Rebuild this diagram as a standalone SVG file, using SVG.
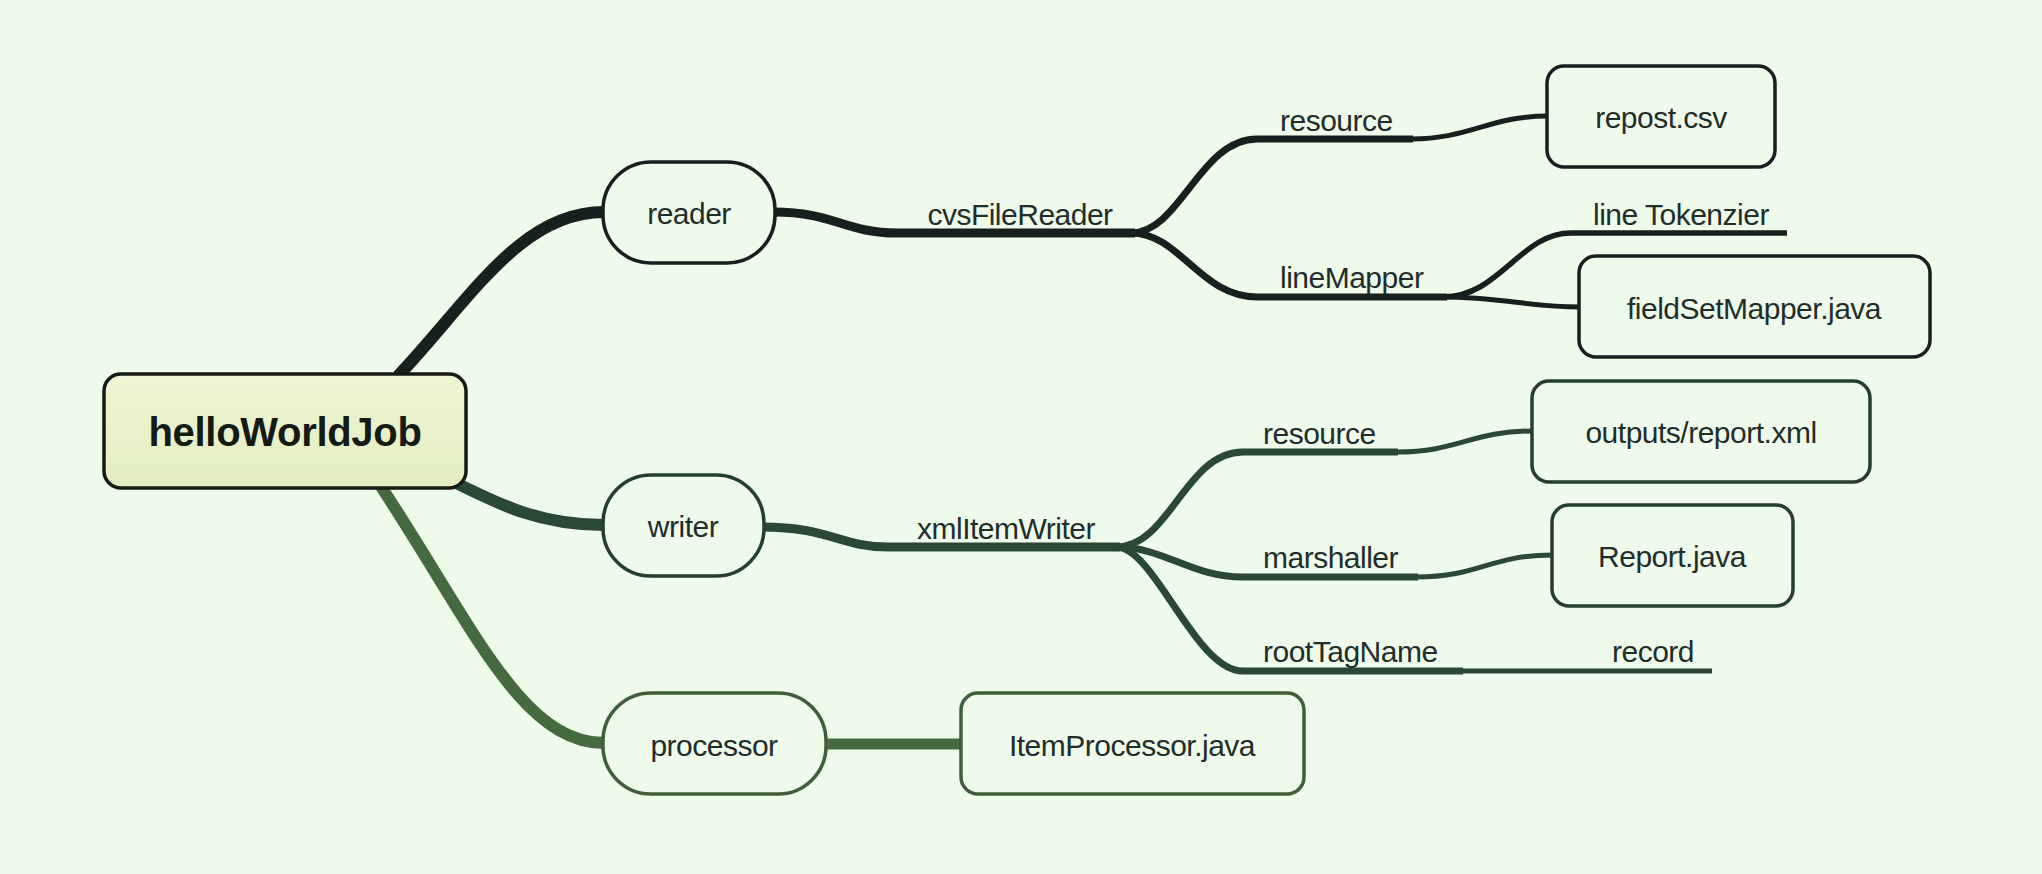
<svg xmlns="http://www.w3.org/2000/svg" width="2042" height="874" viewBox="0 0 2042 874">
<defs>
<linearGradient id="rootFill" x1="0" y1="0" x2="0" y2="1">
<stop offset="0" stop-color="#eef5d4"/>
<stop offset="1" stop-color="#e3edc0"/>
</linearGradient>
<style>
.t{font-family:"Liberation Sans",Arial,Helvetica,sans-serif;font-size:30px;fill:#1f2e2a;letter-spacing:-0.5px}
.tc{text-anchor:middle}
.root{font-family:"Liberation Sans",Arial,Helvetica,sans-serif;font-size:40px;font-weight:bold;fill:#141a14;text-anchor:middle;letter-spacing:-0.3px}
.c{fill:none;stroke-linecap:butt;stroke-linejoin:round}
.r{stroke:#17201c}
.w{stroke:#2b4736}
.p{stroke:#456a40}
.nb{fill:#eefaea;stroke-width:3.5}
.nr{stroke:#17201c}
.nw{stroke:#253f2e}
.np{stroke:#3e5f3a}
</style>
</defs>
<rect x="0" y="0" width="2042" height="874" fill="#eefaea"/>

<g id="connectors">
<!-- root level -->
<path class="c r" stroke-width="12" d="M 398 376 C 470 300, 520 212, 604 212"/>
<path class="c w" stroke-width="12" d="M 450 480 C 500 505, 540 525, 604 525"/>
<path class="c p" stroke-width="12" d="M 378 482 C 470 620, 520 743, 604 743"/>
<!-- reader branch -->
<path class="c r" stroke-width="9" d="M 773 212 C 835 212, 845 233, 897 233 L 1135 233"/>
<path class="c r" stroke-width="7" d="M 1131 233 C 1180 233, 1200 139, 1257 139 L 1413 139"/>
<path class="c r" stroke-width="7" d="M 1131 233 C 1180 233, 1200 297, 1257 297 L 1447 297"/>
<path class="c r" stroke-width="5" d="M 1411 139 C 1470 139, 1490 116, 1548 116"/>
<path class="c r" stroke-width="5.5" stroke-linecap="round" d="M 1443 297 C 1500 297, 1520 233, 1571 233 L 1787 233"/>
<path class="c r" stroke-width="5" d="M 1443 297 C 1500 297, 1530 307, 1580 307"/>
<!-- writer branch -->
<path class="c w" stroke-width="9" d="M 762 527 C 830 527, 840 547, 888 547 L 1120 547"/>
<path class="c w" stroke-width="7" d="M 1116 547 C 1170 547, 1185 452, 1243 452 L 1398 452"/>
<path class="c w" stroke-width="7" d="M 1116 547 C 1165 547, 1190 577, 1243 577 L 1418 577"/>
<path class="c w" stroke-width="7" d="M 1116 547 C 1155 547, 1195 671, 1243 671 L 1463 671"/>
<path class="c w" stroke-width="5" d="M 1396 452 C 1460 452, 1470 431, 1533 431"/>
<path class="c w" stroke-width="5" d="M 1416 577 C 1480 577, 1490 555, 1553 555"/>
<path class="c w" stroke-width="5" stroke-linecap="round" d="M 1460 671 L 1712 671"/>
<!-- processor branch -->
<path class="c p" stroke-width="11" d="M 824 744 L 962 744"/>
</g>

<g id="label-cvsFileReader"><text class="t tc" x="1020" y="225">cvsFileReader</text></g>
<g id="label-resource-reader"><text class="t" x="1280" y="131">resource</text></g>
<g id="label-lineMapper"><text class="t" x="1280" y="288">lineMapper</text></g>
<g id="label-lineTokenzier"><text class="t" x="1593" y="225">line Tokenzier</text></g>
<g id="label-xmlItemWriter"><text class="t tc" x="1006" y="539">xmlItemWriter</text></g>
<g id="label-resource-writer"><text class="t" x="1263" y="444">resource</text></g>
<g id="label-marshaller"><text class="t" x="1263" y="568">marshaller</text></g>
<g id="label-rootTagName"><text class="t" x="1263" y="662">rootTagName</text></g>
<g id="label-record"><text class="t tc" x="1653" y="662">record</text></g>

<g id="node-helloWorldJob">
<rect x="104" y="374" width="362" height="114" rx="17" fill="url(#rootFill)" stroke="#151a14" stroke-width="3.5"/>
<text class="root" x="285" y="446">helloWorldJob</text>
</g>
<g id="node-reader">
<rect class="nb nr" x="603" y="162" width="172" height="101" rx="48"/>
<text class="t tc" x="689" y="224">reader</text>
</g>
<g id="node-writer">
<rect class="nb nw" x="603" y="475" width="161" height="101" rx="48"/>
<text class="t tc" x="683" y="537">writer</text>
</g>
<g id="node-processor">
<rect class="nb np" x="603" y="693" width="223" height="101" rx="48"/>
<text class="t tc" x="714" y="756">processor</text>
</g>
<g id="node-ItemProcessor">
<rect class="nb np" x="961" y="693" width="343" height="101" rx="17"/>
<text class="t tc" x="1132" y="756">ItemProcessor.java</text>
</g>
<g id="node-repost">
<rect class="nb nr" x="1547" y="66" width="228" height="101" rx="17"/>
<text class="t tc" x="1661" y="128">repost.csv</text>
</g>
<g id="node-fieldSetMapper">
<rect class="nb nr" x="1579" y="256" width="351" height="101" rx="17"/>
<text class="t tc" x="1754" y="319">fieldSetMapper.java</text>
</g>
<g id="node-outputs">
<rect class="nb nw" x="1532" y="381" width="338" height="101" rx="17"/>
<text class="t tc" x="1701" y="443">outputs/report.xml</text>
</g>
<g id="node-Report">
<rect class="nb nw" x="1552" y="505" width="241" height="101" rx="17"/>
<text class="t tc" x="1672" y="567">Report.java</text>
</g>
</svg>
